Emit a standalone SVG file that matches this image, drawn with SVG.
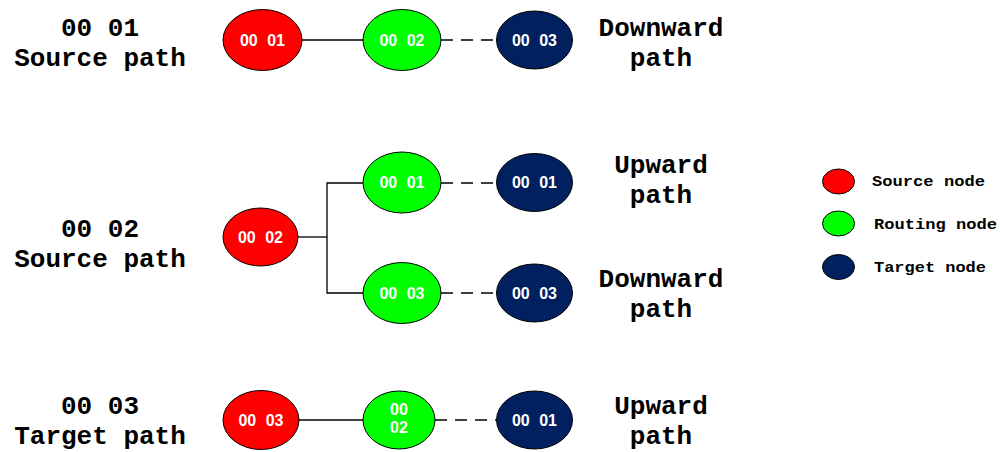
<svg xmlns="http://www.w3.org/2000/svg" width="1000" height="452" viewBox="0 0 1000 452">
<style>
.t{font-family:"Liberation Mono","DejaVu Sans Mono",monospace;font-weight:bold;font-size:26px;fill:#000;text-anchor:middle}
.lg{font-family:"Liberation Mono","DejaVu Sans Mono",monospace;font-weight:bold;font-size:15px;fill:#000}
.n{font-family:"Liberation Sans",Arial,sans-serif;font-weight:bold;font-size:16px;fill:#fff;text-anchor:middle;word-spacing:5px}
.src{fill:#ff0000;stroke:#000;stroke-width:1}
.rt{fill:#00ff00;stroke:#000;stroke-width:1}
.tg{fill:#002060;stroke:#000;stroke-width:1}
.s{stroke:#000;stroke-width:1.3;fill:none}
.d{stroke:#000;stroke-width:1.3;fill:none;stroke-dasharray:12 8}
</style>
<g id="labels">
<text class="t" x="100" y="36">00 01</text>
<text class="t" x="100" y="65.5">Source path</text>
<text class="t" x="100" y="237">00 02</text>
<text class="t" x="100" y="266.5">Source path</text>
<text class="t" x="100" y="414">00 03</text>
<text class="t" x="100" y="444">Target path</text>
<text class="t" x="661" y="36">Downward</text>
<text class="t" x="661" y="65.5">path</text>
<text class="t" x="661" y="173">Upward</text>
<text class="t" x="661" y="202.5">path</text>
<text class="t" x="661" y="287">Downward</text>
<text class="t" x="661" y="316.5">path</text>
<text class="t" x="661" y="414">Upward</text>
<text class="t" x="661" y="443.5">path</text>
</g>
<g id="connectors">
<line class="s" x1="302" y1="40" x2="363" y2="40"/>
<line class="d" x1="441" y1="40" x2="496" y2="40"/>
<polyline class="s" points="298,237 327,237"/>
<polyline class="s" points="363,183 327,183 327,293 363,293"/>
<line class="d" x1="441" y1="183" x2="496" y2="183"/>
<line class="d" x1="441" y1="293" x2="496" y2="293"/>
<line class="s" x1="299" y1="420" x2="363" y2="420"/>
<line class="d" x1="435" y1="420" x2="496" y2="420"/>
</g>
<g id="r1-src"><ellipse class="src" cx="262.5" cy="40" rx="39.5" ry="30.5"/><text class="n" x="262.5" y="45.5">00 01</text></g>
<g id="r1-rt"><ellipse class="rt" cx="402" cy="40" rx="39" ry="30.5"/><text class="n" x="402" y="45.5">00 02</text></g>
<g id="r1-tg"><ellipse class="tg" cx="534.5" cy="40" rx="38" ry="29"/><text class="n" x="534.5" y="45.5">00 03</text></g>
<g id="r2-src"><ellipse class="src" cx="260.5" cy="237" rx="37.5" ry="29"/><text class="n" x="260.5" y="242.5">00 02</text></g>
<g id="r2-rt1"><ellipse class="rt" cx="402" cy="182.5" rx="39" ry="30.5"/><text class="n" x="402" y="188">00 01</text></g>
<g id="r2-tg1"><ellipse class="tg" cx="534.5" cy="182.5" rx="38" ry="29"/><text class="n" x="534.5" y="188">00 01</text></g>
<g id="r2-rt2"><ellipse class="rt" cx="402" cy="293" rx="39" ry="30.5"/><text class="n" x="402" y="298.5">00 03</text></g>
<g id="r2-tg2"><ellipse class="tg" cx="534.5" cy="293" rx="38" ry="29"/><text class="n" x="534.5" y="298.5">00 03</text></g>
<g id="r3-src"><ellipse class="src" cx="261" cy="420" rx="38" ry="29.5"/><text class="n" x="261" y="425.5">00 03</text></g>
<g id="r3-rt"><ellipse class="rt" cx="399" cy="420" rx="36" ry="29"/><text class="n" x="399" y="415">00</text><text class="n" x="399" y="433">02</text></g>
<g id="r3-tg"><ellipse class="tg" cx="534.5" cy="420" rx="38" ry="29"/><text class="n" x="534.5" y="425.5">00 01</text></g>
<g id="legend">
<ellipse class="src" cx="838.5" cy="181.5" rx="16" ry="12.5"/>
<text class="lg" x="872" y="186" textLength="113" lengthAdjust="spacingAndGlyphs">Source node</text>
<ellipse class="rt" cx="838.5" cy="223.5" rx="16" ry="12.5"/>
<text class="lg" x="874" y="229" textLength="123" lengthAdjust="spacingAndGlyphs">Routing node</text>
<ellipse class="tg" cx="838.5" cy="267" rx="16" ry="12.5"/>
<text class="lg" x="874" y="272" textLength="112" lengthAdjust="spacingAndGlyphs">Target node</text>
</g>
</svg>
